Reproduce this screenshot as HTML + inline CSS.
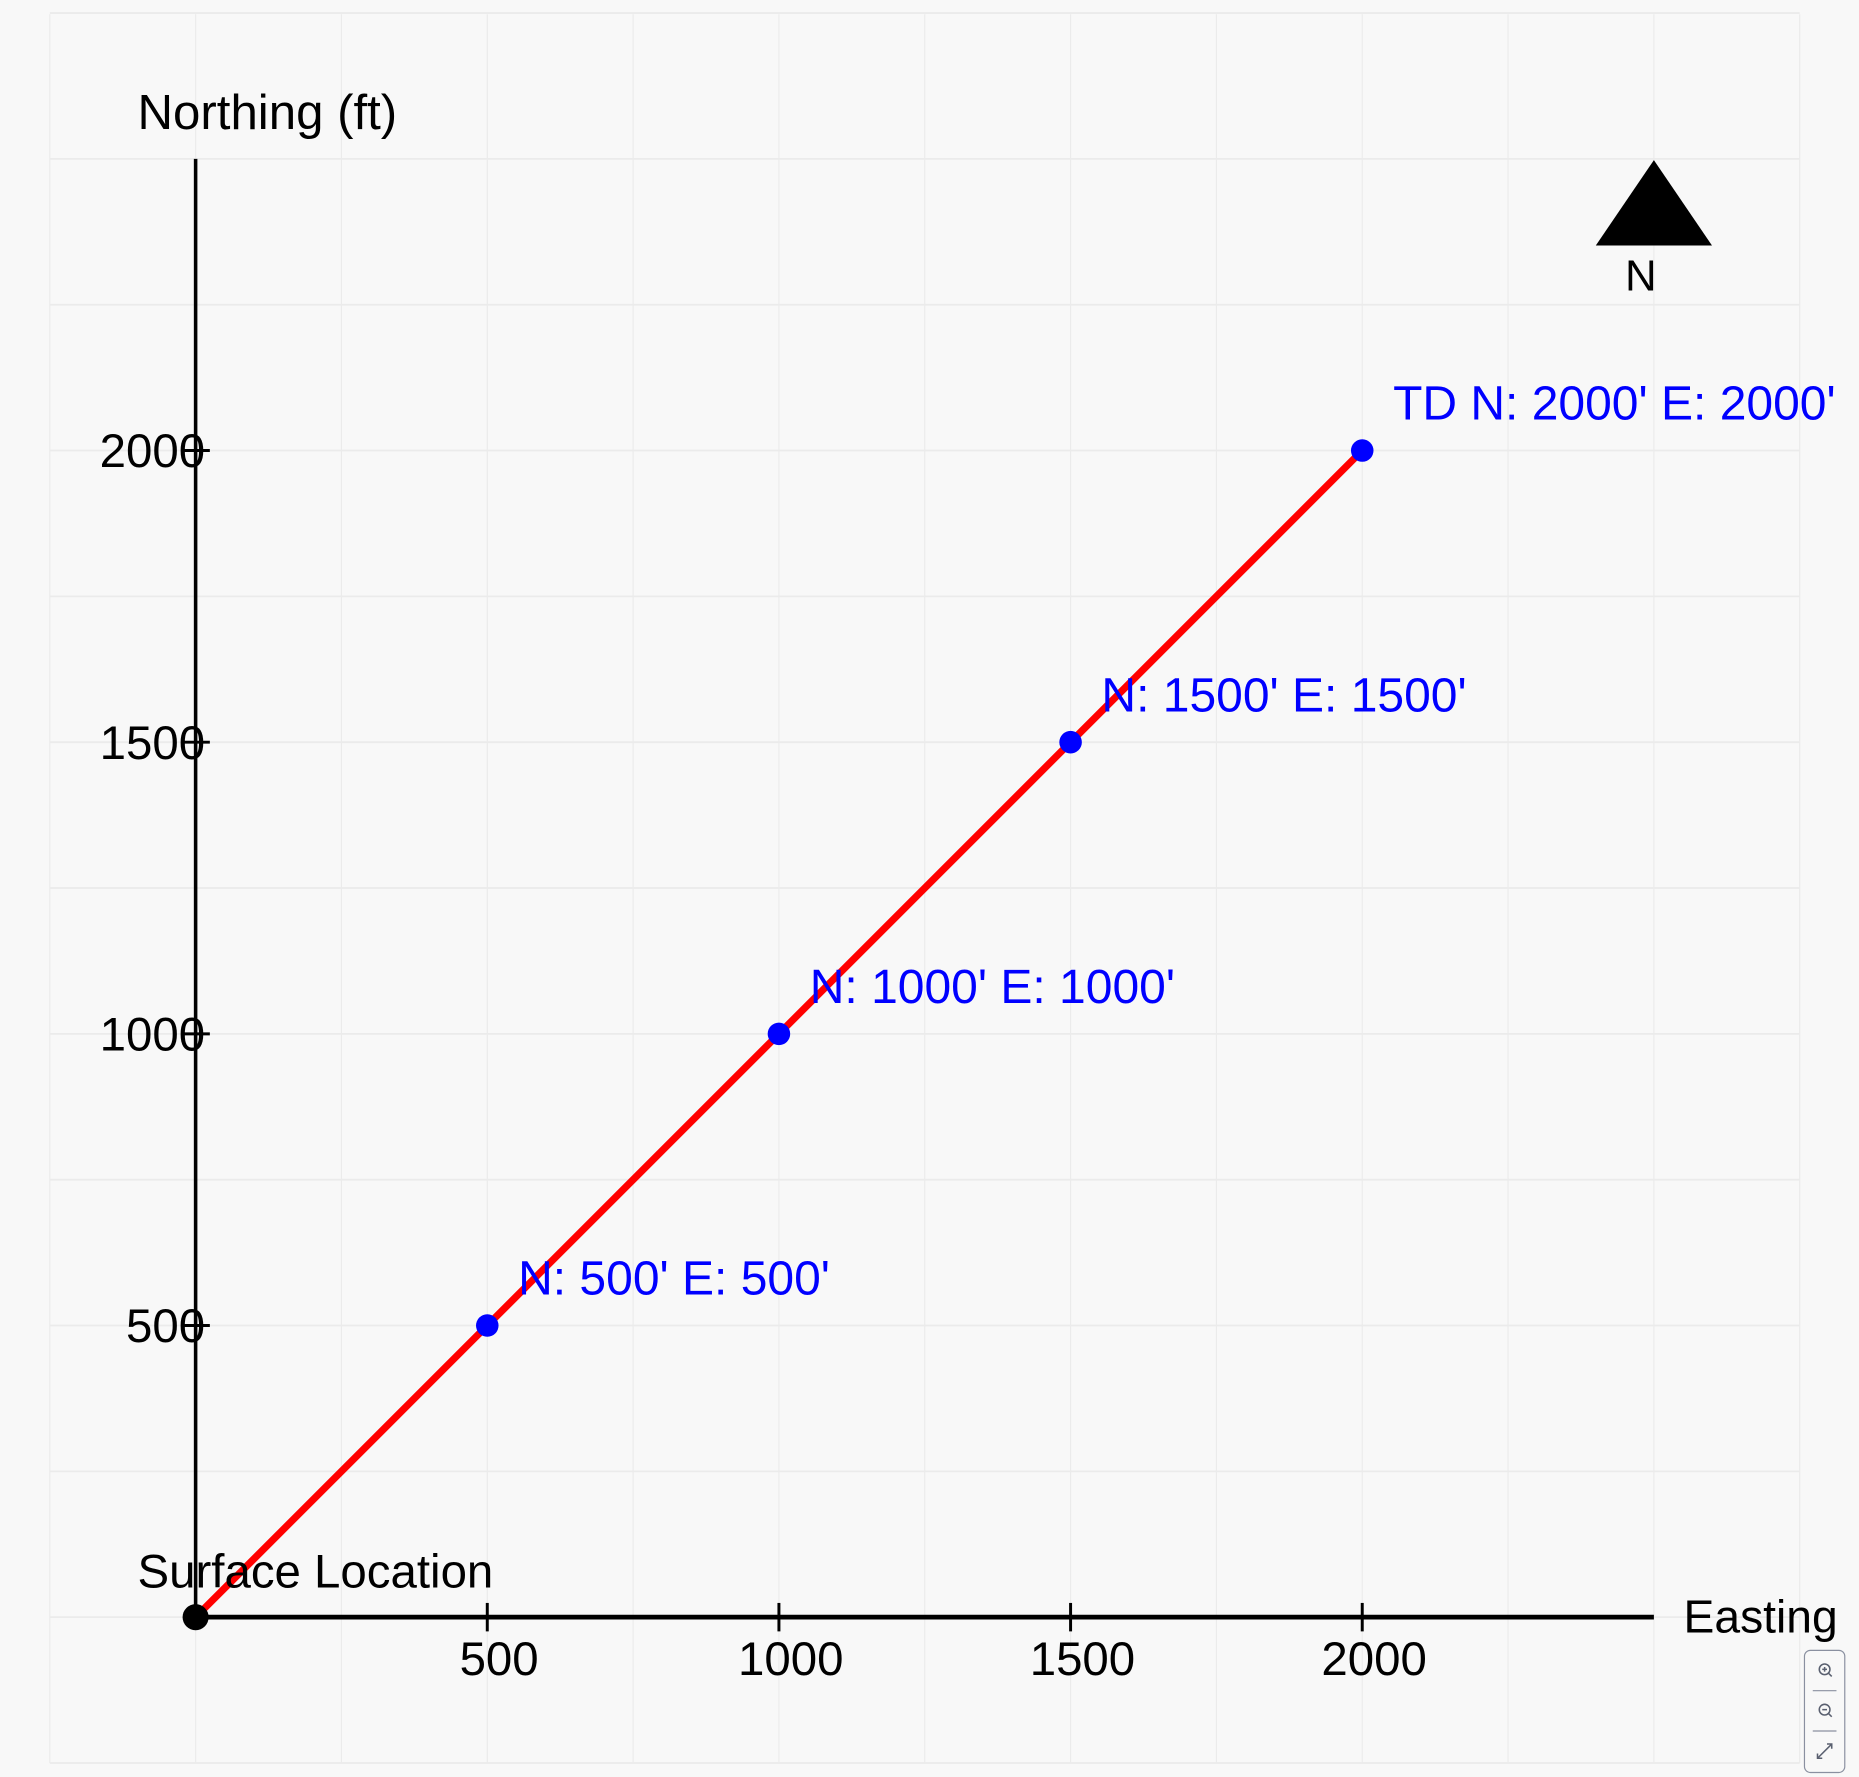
<!DOCTYPE html>
<html><head><meta charset="utf-8"><style>
html,body{margin:0;padding:0;background:#f8f8f8;}
svg{display:block;font-family:"Liberation Sans",sans-serif;}
</style></head><body>
<svg id="chart" width="1859" height="1777" viewBox="0 0 1568 1498.8" xmlns="http://www.w3.org/2000/svg">
<rect x="0" y="0" width="1568" height="1498.8" fill="#f8f8f8"/>
<g id="grid"></g>
<g id="axes"></g>
<g id="marks"></g>
<text x="116" y="109" font-size="41.5">Northing (ft)</text>
<text x="1420" y="1377" font-size="39">Easting</text>
<polygon points="1395,135 1346,207 1444,207" fill="#000"/>
<text x="1384" y="245" font-size="37" text-anchor="middle">N</text>
<g>
<rect x="1522" y="1392" width="34" height="103" rx="5" fill="#f8f8f8" stroke="#8a90a0" stroke-width="1"/>
<g stroke="#5a6070" stroke-width="1.3" fill="none"><circle cx="1539" cy="1408" r="4.5"/><line x1="1542" y1="1411" x2="1545" y2="1414"/><line x1="1537" y1="1408" x2="1541" y2="1408"/><line x1="1539" y1="1406" x2="1539" y2="1410"/></g>
<line x1="1529" y1="1426" x2="1549" y2="1426" stroke="#8a90a0"/>
<g stroke="#5a6070" stroke-width="1.3" fill="none"><circle cx="1539" cy="1442" r="4.5"/><line x1="1542" y1="1445" x2="1545" y2="1448"/><line x1="1537" y1="1442" x2="1541" y2="1442"/></g>
<line x1="1529" y1="1460" x2="1549" y2="1460" stroke="#8a90a0"/>
<g stroke="#5a6070" stroke-width="1.3" fill="none"><line x1="1533" y1="1483" x2="1545" y2="1471"/><polyline points="1541,1471 1545,1471 1545,1475"/><polyline points="1533,1479 1533,1483 1537,1483"/></g>
</g>
</svg>
<script>
const eastings = [0, 500, 1000, 1500, 2000];
const northings = [0, 500, 1000, 1500, 2000];
const pointLabels = ["Surface Location", "N: 500' E: 500'", "N: 1000' E: 1000'", "N: 1500' E: 1500'", "TD N: 2000' E: 2000'"];
const xTicks = [500, 1000, 1500, 2000];
const yTicks = [500, 1000, 1500, 2000];
const gridValues = [-250, 0, 250, 500, 750, 1000, 1250, 1500, 1750, 2000, 2250, 2500, 2750];

const NS = "http://www.w3.org/2000/svg";
const X0 = 165, Y0 = 1364, K = 246 / 500;
function xs(v){ return X0 + v * K; }
function ys(v){ return Y0 - v * K; }
function mk(tag, attrs, parent){
  const e = document.createElementNS(NS, tag);
  for (const k in attrs) e.setAttribute(k, attrs[k]);
  parent.appendChild(e);
  return e;
}
const grid = document.getElementById('grid');
const axes = document.getElementById('axes');
const marks = document.getElementById('marks');

gridValues.forEach(v => {
  const gx = mk('line', {x1: xs(v), x2: xs(v), y1: 12, y2: 1487, stroke: '#ebebeb', 'stroke-width': 1}, grid);
  
  
  const gy = mk('line', {x1: 42, x2: 1518, y1: ys(v), y2: ys(v), stroke: '#ebebeb', 'stroke-width': 1.5}, grid);
  
  
});

const yAxis = mk('line', {x1: X0, x2: X0, y1: 134, y2: Y0, stroke: '#000', 'stroke-width': 3}, axes);


const xAxis = mk('line', {x1: X0, x2: 1395, y1: Y0, y2: Y0, stroke: '#000', 'stroke-width': 4}, axes);



xTicks.forEach(v => {
  const t = mk('line', {x1: xs(v), x2: xs(v), y1: Y0 - 12, y2: Y0 + 12, stroke: '#000', 'stroke-width': 2.5}, axes);
  
  
  const l = mk('text', {x: xs(v) + 10, y: 1413, 'font-size': 40, 'text-anchor': 'middle'}, axes);
  l.textContent = v;
  
  
});
yTicks.forEach(v => {
  const t = mk('line', {x1: X0 - 11, x2: X0 + 12, y1: ys(v), y2: ys(v), stroke: '#000', 'stroke-width': 2.5}, axes);
  
  
  const l = mk('text', {x: 173, y: ys(v) + 14, 'font-size': 40, 'text-anchor': 'end'}, axes);
  l.textContent = v;
  
  
});

const pts = eastings.map((e, i) => xs(e) + ',' + ys(northings[i])).join(' ');
const path = mk('polyline', {points: pts, fill: 'none', stroke: '#ff0000', 'stroke-width': 6}, marks);



eastings.forEach((e, i) => {
  const first = i === 0;
  const c = mk('circle', {cx: xs(e), cy: ys(northings[i]), r: first ? 11 : 9.5, fill: first ? '#000' : '#0000ff'}, marks);
  
  
  const t = mk('text', {x: first ? xs(e) - 49 : xs(e) + 26, y: first ? ys(northings[i]) - 25 : ys(northings[i]) - 26, 'font-size': first ? 40 : 40.5, fill: first ? '#000' : '#0000ff'}, marks);
  t.textContent = pointLabels[i];
  
  
});
</script>
</body></html>
